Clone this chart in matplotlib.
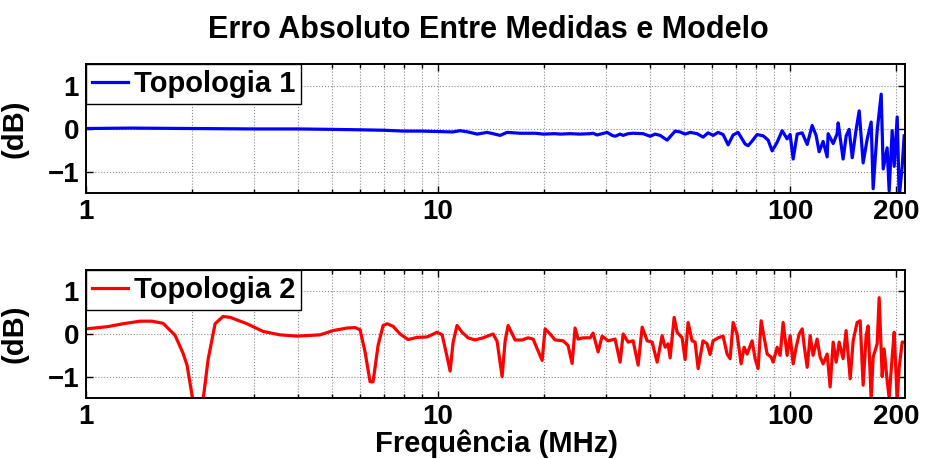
import numpy as np
import matplotlib
matplotlib.use("Agg")
import matplotlib.pyplot as plt
from matplotlib.ticker import FixedLocator, NullFormatter

# error between measurement and model, topology 1 (MHz, dB)
freq_t1 = [1.000, 1.334, 2.00, 3.00, 4.00, 5.00, 6.00, 7.00, 8.00, 9.00,
           10.0, 11.0, 11.55, 12.17, 12.91, 13.78, 14.33, 15.00, 15.70, 17.10,
           18.86, 19.88, 21.50, 22.22, 23.71, 25.32, 27.03, 27.57, 28.29, 30.21,
           31.22, 31.83, 32.89, 33.54, 34.65, 35.82, 38.23, 40.03, 41.36, 42.73,
           44.73, 47.13, 48.70, 50.32, 52.00, 54.43, 56.61, 58.48, 60.43, 62.43,
           64.52, 66.66, 68.88, 71.15, 74.50, 75.97, 78.00, 80.58, 83.82, 86.59,
           88.90, 91.85, 94.91, 98.05, 100.0, 102.0, 104.7, 108.2, 111.8, 115.5,
           118.5, 120.9, 124.1, 127.4, 128.2, 132.5, 136.0, 136.9, 141.4, 144.3,
           147.1, 150.1, 154.0, 157.1, 161.2, 165.5, 169.9, 172.1, 176.7, 181.4,
           183.8, 188.6, 191.1, 194.9, 197.5, 201.4, 204.1, 208.1, 210.8]
err_t1 = [0.00, 0.01, 0.00, -0.01, -0.01, -0.02, -0.03, -0.04, -0.06, -0.06,
          -0.07, -0.08, -0.05, -0.08, -0.13, -0.09, -0.12, -0.16, -0.09, -0.11,
          -0.11, -0.13, -0.12, -0.13, -0.12, -0.13, -0.12, -0.11, -0.15, -0.09,
          -0.16, -0.18, -0.13, -0.16, -0.12, -0.11, -0.12, -0.18, -0.13, -0.16,
          -0.27, -0.06, -0.08, -0.13, -0.09, -0.12, -0.20, -0.10, -0.16, -0.09,
          -0.14, -0.38, -0.15, -0.09, -0.36, -0.40, -0.29, -0.14, -0.17, -0.27,
          -0.52, -0.32, -0.05, -0.24, -0.14, -0.71, -0.13, -0.10, -0.37, 0.07,
          -0.16, -0.54, -0.30, -0.66, -0.12, -0.35, -0.12, 0.13, -0.71, -0.17,
          -0.02, -0.68, -0.02, 0.41, -0.80, -0.25, 0.15, -1.40, -0.05, 0.80,
          -0.94, -0.45, -1.45, -0.05, -0.88, 0.27, -1.60, -0.88, -0.17]

# error between measurement and model, topology 2 (MHz, dB)
freq_t2 = [1.000, 1.147, 1.274, 1.423, 1.540, 1.655, 1.790, 1.886, 1.936, 1.988,
           2.014, 2.067, 2.150, 2.222, 2.326, 2.450, 2.566, 2.867, 3.183, 3.557,
           3.976, 4.622, 5.031, 5.513, 5.809, 6.003, 6.203, 6.409, 6.536, 6.754,
           6.981, 7.166, 7.450, 7.798, 8.217, 8.717, 9.307, 9.935, 10.27, 10.61,
           10.82, 11.03, 11.32, 11.70, 12.17, 12.74, 13.42, 14.33, 14.71, 15.20,
           15.50, 15.81, 16.55, 17.33, 18.01, 18.62, 19.75, 20.14, 20.81, 21.50,
           22.66, 23.40, 24.03, 24.50, 24.99, 25.82, 27.03, 27.56, 28.48, 29.24,
           30.41, 31.83, 32.89, 33.54, 34.66, 35.81, 37.01, 37.99, 39.26, 40.55,
           41.90, 43.29, 44.15, 45.03, 45.62, 46.83, 47.76, 49.34, 50.31, 51.31,
           52.67, 53.71, 54.78, 56.56, 58.08, 59.23, 60.41, 62.44, 64.51, 66.22,
           67.54, 68.88, 70.67, 72.57, 74.00, 75.47, 77.98, 79.54, 81.11, 82.73,
           84.37, 86.04, 88.31, 89.47, 91.85, 93.67, 95.52, 98.06, 100.0, 102.0,
           104.0, 106.1, 108.2, 109.6, 111.8, 114.0, 116.2, 119.3, 121.7, 124.1,
           127.4, 129.9, 132.5, 135.1, 137.8, 141.4, 144.2, 148.1, 151.0, 155.0,
           158.1, 161.2, 164.4, 166.6, 169.9, 172.1, 176.7, 179.0, 182.6, 184.9,
           188.6, 191.1, 194.9, 197.5, 201.4, 204.1, 208.1, 210.8]
err_t2 = [0.12, 0.17, 0.24, 0.30, 0.30, 0.25, -0.03, -0.45, -0.73, -1.30,
          -1.60, -2.50, -1.55, -0.60, 0.24, 0.41, 0.39, 0.24, 0.06, -0.02,
          -0.05, -0.02, 0.08, 0.14, 0.15, 0.10, -0.42, -1.12, -1.12, -0.27,
          0.20, 0.24, 0.18, 0.00, -0.13, -0.08, -0.07, 0.04, -0.02, -0.54,
          -0.87, -0.20, 0.20, 0.04, -0.09, -0.14, -0.09, 0.00, -0.17, -1.00,
          -0.17, 0.20, -0.14, -0.14, -0.09, -0.12, -0.62, 0.12, 0.00, -0.14,
          -0.16, -0.27, -0.69, 0.14, -0.12, -0.09, -0.09, 0.02, -0.42, -0.05,
          -0.16, -0.12, -0.66, 0.00, -0.19, -0.16, -0.73, 0.16, -0.16, -0.19,
          -0.66, -0.04, -0.31, -0.23, -0.56, 0.39, 0.04, -0.09, -0.60, 0.27,
          -0.16, -0.19, -0.81, -0.16, -0.23, -0.48, -0.16, -0.09, -0.05, -0.47,
          -0.58, 0.27, 0.00, -0.70, -0.31, -0.47, -0.16, -0.58, -0.81, 0.31,
          -0.08, -0.47, -0.54, -0.66, -0.31, -0.50, 0.27, -0.50, -0.04, -0.70,
          -0.31, 0.00, 0.12, -0.27, -0.78, -0.04, -0.50, -0.12, -0.54, -0.70,
          -0.47, -1.24, -0.19, -0.66, -0.19, -0.58, 0.08, -1.05, -0.16, 0.27,
          0.31, -1.20, -0.04, 0.19, -1.55, -0.54, -0.23, 0.85, -1.00, -0.35,
          -1.09, -1.50, -0.54, 0.04, -1.55, -0.78, -0.19, -0.19]

series = [(freq_t1, err_t1, "#0000ff", "Topologia 1"),
          (freq_t2, err_t2, "#ff0000", "Topologia 2")]
xticks = [1, 10, 100, 200]
yticks = [-1, 0, 1]

plt.rcParams["font.family"] = ["Liberation Sans", "DejaVu Sans"]
plt.rcParams["font.weight"] = "bold"

fig = plt.figure(figsize=(9.31, 4.59), dpi=100)
positions = [[0.0924, 0.5795, 0.8797, 0.2810],
             [0.0924, 0.1329, 0.8797, 0.2789]]

axes = []
for pos, (f, e, col, name) in zip(positions, series):
    ax = fig.add_axes(pos)
    ax.plot(f, e, color=col, lw=2.3, label=name)
    ax.set_xscale("log")
    ax.set_xlim(1, 212)
    ax.set_ylim(-1.5, 1.5)
    ax.xaxis.set_major_locator(FixedLocator(xticks))
    ax.set_xticklabels([str(t) for t in xticks])
    ax.xaxis.set_minor_locator(FixedLocator(
        [m * d for d in (1, 10) for m in range(2, 10)]))
    ax.xaxis.set_minor_formatter(NullFormatter())
    ax.set_yticks(yticks)
    ax.set_yticklabels(["\u22121", "0", "1"])
    ax.grid(which="major", color="0.55", ls=":", lw=0.8)
    ax.grid(which="minor", axis="x", color="0.55", ls=":", lw=0.8)
    ax.tick_params(which="both", direction="in", top=True, right=True,
                   labelsize=20, width=1.0)
    ax.tick_params(axis="x", pad=4)
    ax.tick_params(axis="y", pad=5)
    ax.tick_params(which="major", length=5)
    ax.tick_params(which="minor", length=3)
    for sp in ax.spines.values():
        sp.set_linewidth(1.4)
    ax.set_ylabel("(dB)", fontsize=21, fontweight="bold")
    ax.yaxis.set_label_coords(-0.07, 0.5)
    leg = ax.legend(loc="upper left", borderaxespad=0, fontsize=21,
                    handlelength=1.25, handletextpad=0.2, borderpad=0.2,
                    fancybox=False, framealpha=1)
    leg.get_frame().set_edgecolor("black")
    leg.get_frame().set_linewidth(1.0)
    axes.append(ax)

# axis label placed by hand right under the lower tick labels
fig.text(0.533, 0.015, "Frequência (MHz)", ha="center", va="baseline",
         fontsize=21, fontweight="bold")
fig.text(0.525, 0.935, "Erro Absoluto Entre Medidas e Modelo",
         ha="center", va="center", fontsize=22, fontweight="bold")

fig.savefig("out.png", dpi=100)
